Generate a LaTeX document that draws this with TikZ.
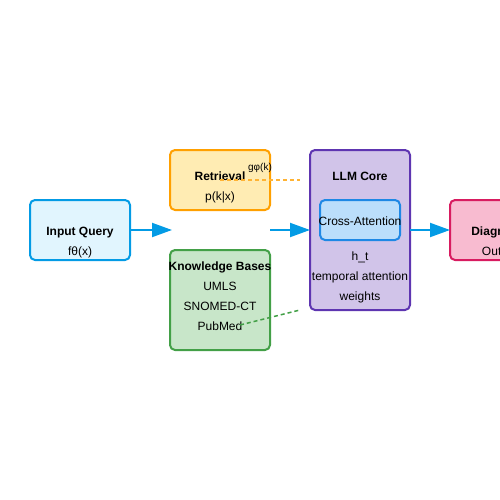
\documentclass[tikz,border=0pt]{standalone}
\usepackage{fontspec}
\setmainfont{Liberation Sans}
\usetikzlibrary{arrows.meta}

\definecolor{qfill}{HTML}{E1F5FE}
\definecolor{qline}{HTML}{039BE5}
\definecolor{rfill}{HTML}{FFECB3}
\definecolor{rline}{HTML}{FFA000}
\definecolor{kfill}{HTML}{C8E6C9}
\definecolor{kline}{HTML}{43A047}
\definecolor{lfill}{HTML}{D1C4E9}
\definecolor{lline}{HTML}{5E35B1}
\definecolor{cfill}{HTML}{BBDEFB}
\definecolor{cline}{HTML}{1E88E5}
\definecolor{dfill}{HTML}{F8BBD0}
\definecolor{dline}{HTML}{D81B60}

\begin{document}
\begin{tikzpicture}[x=1pt,y=-1pt,
    box/.style={rectangle, rounded corners=5pt, line width=2pt, inner sep=0pt, outer sep=0pt},
    lbl/.style={inner sep=0pt, anchor=base, font=\fontsize{12}{14}\selectfont},
    head/.style={lbl, font=\fontsize{12}{14}\selectfont\bfseries},
    flow/.style={qline, line width=2pt, -{Triangle[length=20pt,width=14pt]}},
    link/.style={line width=1.5pt, dash pattern=on 4pt off 3pt}]
    \clip (0,0) rectangle (500,500);
    % Input query
    \node[box, fill=qfill, draw=qline, minimum width=100pt, minimum height=60pt] (query) at (80,230) {};
    \node[head] (queryT) at (80,235) {Input Query};
    \node[lbl] (queryF) at (80,255) {fθ(x)};
    % Retrieval
    \node[box, fill=rfill, draw=rline, minimum width=100pt, minimum height=60pt] (retr) at (220,180) {};
    \node[head] (retrT) at (220,180) {Retrieval};
    \node[lbl] (retrP) at (220,200) {p(k|x)};
    % Knowledge bases
    \node[box, fill=kfill, draw=kline, minimum width=100pt, minimum height=100pt] (kb) at (220,300) {};
    \node[head] (kbT) at (220,270) {Knowledge Bases};
    \node[lbl] (kbA) at (220,290) {UMLS};
    \node[lbl] (kbB) at (220,310) {SNOMED-CT};
    \node[lbl] (kbC) at (220,330) {PubMed};
    % LLM core with cross-attention
    \node[box, fill=lfill, draw=lline, minimum width=100pt, minimum height=160pt] (llm) at (360,230) {};
    \node[head] (llmT) at (360,180) {LLM Core};
    \node[box, fill=cfill, draw=cline, minimum width=80pt, minimum height=40pt] (xatt) at (360,220) {};
    \node[lbl] (xattT) at (360,225) {Cross-Attention};
    \node[lbl] (llmA) at (360,260) {h\_t};
    \node[lbl] (llmB) at (360,280) {temporal attention};
    \node[lbl] (llmC) at (360,300) {weights};
    % Diagnosis (cut at right edge)
    \node[box, fill=dfill, draw=dline, minimum width=100pt, minimum height=60pt] (diag) at (500,230) {};
    \node[head] (diagT) at (500,235) {Diagnosis};
    \node[lbl] (diagO) at (500,255) {Output};
    % Dashed links
    \coordinate (gEnd) at (300,180);
    \coordinate (kStart) at (240,325);
    \coordinate (kEnd) at (300,310);
    \draw[link, rline!80!white] (retr.center) -- (gEnd);
    \draw[link, kline] (kStart) -- (kEnd);
    \node[inner sep=0pt, anchor=base, font=\fontsize{10}{12}\selectfont] (gLbl) at (260,170) {gφ(k)};
    % Flow arrows
    \coordinate (gapA) at (172,230);
    \coordinate (gapB) at (270,230);
    \draw[flow] (query.east) -- (gapA);
    \draw[flow] (gapB) -- (llm.west);
    \draw[flow] (llm.east) -- (diag.west);
\end{tikzpicture}
\end{document}
